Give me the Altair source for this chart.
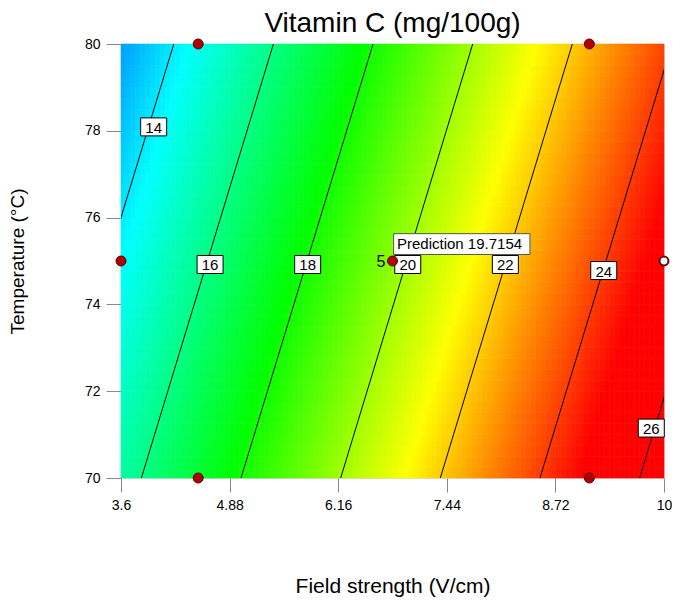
import altair as alt
import numpy as np
import pandas as pd

# Linear response surface: Vitamin C = a + b*Field + c*Temp
intercept = 28.01
coef_field = 1.703
coef_temp = -0.265

x_min, x_max = 3.6, 10.0
t_min, t_max = 70.0, 80.0

x_ticks = [3.6, 4.88, 6.16, 7.44, 8.72, 10]
t_ticks = [70, 72, 74, 76, 78, 80]

levels = [14, 16, 18, 20, 22, 24, 26]
label_x = [3.985, 4.65, 5.80, 6.98, 8.13, 9.29, 9.85]
label_t = [78.09, 74.92, 74.92, 74.92, 74.92, 74.78, 71.15]

design_x = [4.51, 9.12, 4.51, 9.12, 3.6, 6.8]
design_t = [80, 80, 70, 70, 75, 75]
open_x = [10.0]
open_t = [75.0]

center_x = [6.8]
center_t = [75.0]
center_reps = ["5"]

pred_text = ["Prediction  19.7154"]
pred_x = [6.813]
pred_x2 = [8.42]
pred_t = [75.15]
pred_t2 = [75.63]

color_stops = [10.8, 14.3, 17.8, 21.3, 24.8]
color_range = ["#0000ff", "#00ffff", "#00ff00", "#ffff00", "#ff0000"]

FONT = "Liberation Sans"


def model(x, t):
    return intercept + coef_field * x + coef_temp * t


# surface grid
nx, nt = 110, 40
xe = np.linspace(x_min, x_max, nx + 1)
te = np.linspace(t_min, t_max, nt + 1)
rows = []
for i in range(nx):
    for j in range(nt):
        xc = (xe[i] + xe[i + 1]) / 2
        tc = (te[j] + te[j + 1]) / 2
        rows.append({"x": xe[i], "x2": xe[i + 1], "t": te[j], "t2": te[j + 1],
                     "v": model(xc, tc)})
grid = pd.DataFrame(rows)

# contour lines
lines = []
for lv in levels:
    for tt in [t_min - 1, t_max + 1]:
        lines.append({"level": lv, "t": tt,
                      "x": (lv - intercept - coef_temp * tt) / coef_field})
lines = pd.DataFrame(lines)

labels = pd.DataFrame({"x": label_x, "t": label_t, "lab": [str(l) for l in levels]})
pts = pd.DataFrame({"x": design_x, "t": design_t})
opn = pd.DataFrame({"x": open_x, "t": open_t})
ctr = pd.DataFrame({"x": center_x, "t": center_t, "lab": center_reps})
pred = pd.DataFrame({"x": pred_x, "x2": pred_x2, "t": pred_t, "t2": pred_t2,
                     "lab": pred_text, "xm": [pred_x[0] + 0.04],
                     "tm": [(pred_t[0] + pred_t2[0]) / 2]})

xscale = alt.Scale(domain=[x_min, x_max], nice=False, zero=False)
yscale = alt.Scale(domain=[t_min, t_max], nice=False, zero=False)

X = alt.X("x:Q", scale=xscale, title="Field strength (V/cm)",
          axis=alt.Axis(values=x_ticks, labelExpr="datum.value == 10 ? '10' : format(datum.value, '.3~f')",
                        domain=False, grid=False, tickColor="#888888", tickSize=14,
                        labelFlush=False, labelOverlap=False,
                        labelPadding=6, titlePadding=63, labelFontSize=14,
                        titleFontSize=21, titleFontWeight="normal",
                        labelFont=FONT, titleFont=FONT, labelColor="black"))
Y = alt.Y("t:Q", scale=yscale, title="Temperature (°C)",
          axis=alt.Axis(values=t_ticks, domain=False, grid=False, tickColor="#888888",
                        tickSize=15, labelPadding=6, titlePadding=57, labelFontSize=14,
                        labelFlush=False, labelOverlap=False,
                        titleFontSize=19, titleFontWeight="normal",
                        labelFont=FONT, titleFont=FONT, labelColor="black"))

cscale = alt.Scale(domain=color_stops, range=color_range, clamp=True, interpolate="rgb")

heat = alt.Chart(grid).mark_rect(strokeWidth=0.6).encode(
    x=X, x2="x2:Q", y=Y, y2="t2:Q",
    color=alt.Color("v:Q", scale=cscale, legend=None),
    stroke=alt.Stroke("v:Q", scale=cscale, legend=None),
)

cl = alt.Chart(lines).mark_line(color="black", strokeWidth=1, clip=True).encode(
    x=X, y=Y, detail="level:N")

boxes = alt.Chart(labels).mark_rect(width=26, height=18, fill="white", stroke="black",
                                    strokeWidth=1).encode(x=X, y=Y)
btext = alt.Chart(labels).mark_text(fontSize=15, font=FONT, color="black", dy=1).encode(
    x=X, y=Y, text="lab:N")

pbox = alt.Chart(pred).mark_rect(fill="white", stroke="#555555", strokeWidth=1).encode(
    x=X, x2="x2:Q", y=Y, y2="t2:Q")
ptext = alt.Chart(pred).mark_text(fontSize=15, font=FONT, align="left", color="black").encode(
    x=alt.X("xm:Q", scale=xscale, title="Field strength (V/cm)"),
    y=alt.Y("tm:Q", scale=yscale, title="Temperature (°C)"), text="lab:N")

dots = alt.Chart(pts).mark_point(filled=True, size=100, fill="#b00000", stroke="#5a0000",
                                 strokeWidth=1, opacity=1).encode(x=X, y=Y)
odot = alt.Chart(opn).mark_point(filled=True, size=80, fill="white", stroke="#6a0000",
                                 strokeWidth=2, opacity=1).encode(x=X, y=Y)
ctext = alt.Chart(ctr).mark_text(fontSize=16, font=FONT, align="right", dx=-7, dy=1,
                                 color="black").encode(x=X, y=Y, text="lab:N")

chart = alt.layer(heat, cl, boxes, btext, pbox, ptext, dots, odot, ctext).properties(
    width=543, height=434,
    title=alt.TitleParams("Vitamin C (mg/100g)", fontSize=28, font=FONT,
                          fontWeight="normal", anchor="middle", offset=3, dy=4,
                          color="black"),
    autosize=alt.AutoSizeParams(type="none"),
    padding={"left": 113, "top": 36, "right": 8, "bottom": 121},
).configure_view(stroke="black", strokeWidth=1).configure(background="white")

chart.save("out.html", embed_options={"renderer": "svg", "actions": False})
